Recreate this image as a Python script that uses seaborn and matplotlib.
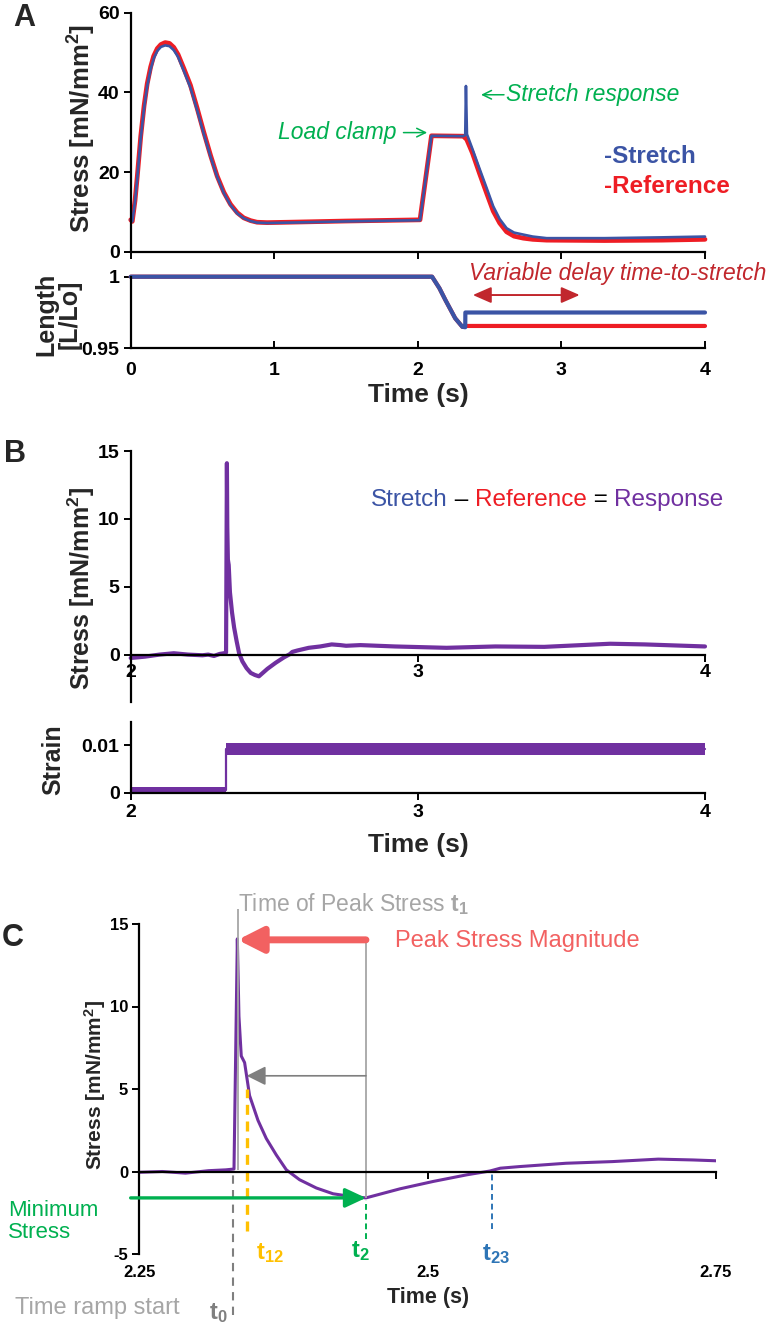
import matplotlib.pyplot as plt
import seaborn as sns
from matplotlib import font_manager

# ---- Panel A: stress traces (time in s, stress in mN/mm2) ----
stretch_a_time = [0.0, 0.011, 0.03, 0.046, 0.07, 0.093, 0.115, 0.139, 0.16, 0.185,
                  0.21, 0.24, 0.27, 0.30, 0.33, 0.37, 0.416, 0.463, 0.509, 0.556,
                  0.602, 0.649, 0.695, 0.742, 0.787, 0.835, 0.88, 0.95, 1.1, 1.5,
                  2.015, 2.095, 2.316, 2.33, 2.335, 2.342, 2.38, 2.432, 2.48, 2.525,
                  2.57, 2.618, 2.67, 2.734, 2.8, 2.897, 3.3, 3.7, 4.0]
stretch_stress = [8.0, 7.6, 12.5, 18.5, 28.5, 36.0, 41.6, 45.8, 48.5, 50.4,
                  51.4, 51.8, 51.6, 50.6, 48.9, 45.4, 41.2, 35.5, 29.6, 23.9,
                  18.8, 14.7, 11.7, 9.6, 8.4, 7.7, 7.3, 7.2, 7.3, 7.6,
                  7.9, 29.1, 29.0, 29.3, 41.6, 29.5, 25.8, 20.6, 15.9, 11.4,
                  8.2, 5.9, 4.8, 4.3, 3.8, 3.4, 3.4, 3.6, 3.8]
ref_a_time = [0.0, 0.011, 0.03, 0.046, 0.07, 0.093, 0.115, 0.139, 0.16, 0.185,
              0.21, 0.24, 0.27, 0.30, 0.33, 0.37, 0.416, 0.463, 0.509, 0.556,
              0.602, 0.649, 0.695, 0.742, 0.787, 0.835, 0.88, 0.95, 1.1, 1.5,
              2.015, 2.095, 2.316, 2.34, 2.38, 2.432, 2.48, 2.525, 2.57, 2.618,
              2.67, 2.734, 2.8, 2.897, 3.3, 3.7, 4.0]
reference_stress = [8.0, 7.6, 12.8, 19.0, 29.0, 36.6, 42.2, 46.4, 49.1, 51.0,
                    52.0, 52.5, 52.3, 51.3, 49.5, 46.0, 41.8, 36.0, 30.0, 24.2,
                    19.0, 14.9, 11.9, 9.8, 8.5, 7.8, 7.4, 7.3, 7.4, 7.7,
                    8.0, 29.1, 29.0, 28.2, 24.8, 19.4, 14.6, 10.2, 7.2, 5.0,
                    3.9, 3.4, 3.1, 2.9, 2.8, 2.9, 3.1]

# ---- Panel A: length traces (L/Lo) ----
stretch_len_time = [0.0, 2.099, 2.15, 2.192, 2.26, 2.31, 2.33, 2.331, 4.0]
stretch_length = [1.0, 1.0, 0.992, 0.9837, 0.971, 0.965, 0.9647, 0.975, 0.975]
ref_len_time = [0.0, 2.099, 2.15, 2.192, 2.26, 2.31, 2.33, 4.0]
ref_length = [1.0, 1.0, 0.992, 0.9837, 0.971, 0.965, 0.9656, 0.9656]

# ---- Panel B/C: response = stretch - reference ----
resp_time = [2.0, 2.05, 2.1, 2.15, 2.2, 2.25, 2.27, 2.29, 2.31, 2.325,
             2.3321, 2.335, 2.3364, 2.3384, 2.3413, 2.3456, 2.3529, 2.3601, 2.3688, 2.3775,
             2.389, 2.4035, 2.418, 2.4324, 2.4465, 2.476, 2.505, 2.534, 2.554, 2.563,
             2.58, 2.62, 2.66, 2.70, 2.73, 2.75, 2.8, 2.92, 3.1, 3.27,
             3.44, 3.67, 3.79, 4.0]
resp_stress = [-0.25, -0.15, 0.0, 0.1, 0.0, -0.05, 0.0, -0.1, 0.05, 0.1,
               0.15, 14.1, 9.4, 7.0, 6.6, 4.6, 3.1, 2.0, 1.0, 0.1,
               -0.5, -1.0, -1.35, -1.5, -1.6, -1.05, -0.6, -0.2, 0.03, 0.2,
               0.3, 0.5, 0.6, 0.75, 0.7, 0.65, 0.7, 0.6, 0.5, 0.6,
               0.57, 0.8, 0.75, 0.6]

# strain step (centre line and noise band)
strain_time = [2.0, 2.332, 2.332, 4.0]
strain_mid = [0.0005, 0.0005, 0.0092, 0.0092]
strain_low = [0.0, 0.0, 0.0080, 0.0080]
strain_high = [0.0012, 0.0012, 0.0104, 0.0104]

# ---- Panel C: characteristic times ----
t0, t1, t12, t2, t23 = 2.3315, 2.3353, 2.3431, 2.4465, 2.5555
peak_stress, half_stress, min_stress = 14.04, 5.8, -1.6

a_xticks = [0, 1, 2, 3, 4]
a_yticks = [0, 20, 40, 60]
len_yticks = [0.95, 1.0]
len_yticklabels = ["0.95", "1"]
b_xticks = [2, 3, 4]
b_yticks = [0, 5, 10, 15]
strain_yticks = [0, 0.01]
strain_yticklabels = ["0", "0.01"]
c_xticks = [2.25, 2.5, 2.75]
c_xticklabels = ["2.25", "2.5", "2.75"]
c_yticks = [-5, 0, 5, 10, 15]

BLUE = "#3b54a5"
RED = "#ee1d24"
PURPLE = "#7030a0"
GREEN = "#00b050"
DARKRED = "#c1272d"
ORANGE = "#ffc000"
TBLUE = "#2e75b6"
GRAY = "#7f7f7f"
LGRAY = "#a6a6a6"
PEAKRED = "#f26161"

sns.set_style("ticks")
plt.rcParams['font.family'] = ['Liberation Sans', 'DejaVu Sans']
plt.rcParams['mathtext.fontset'] = 'custom'
plt.rcParams['mathtext.rm'] = 'Liberation Sans'
plt.rcParams['mathtext.bf'] = 'Liberation Sans:bold'
plt.rcParams['mathtext.it'] = 'Liberation Sans:italic'
plt.rcParams['axes.linewidth'] = 1.6
plt.rcParams['xtick.major.width'] = 1.4
plt.rcParams['ytick.major.width'] = 1.4
plt.rcParams['xtick.color'] = 'black'
plt.rcParams['ytick.color'] = 'black'
plt.rcParams['axes.edgecolor'] = 'black'

installed = {f.name for f in font_manager.fontManager.ttflist}
NARROW = ['Liberation Sans Narrow', 'Liberation Sans'] if 'Liberation Sans Narrow' in installed else ['Liberation Sans']

W, H = 776, 1325


def box(left, top, right, bottom):
    return [left / W, 1 - bottom / H, (right - left) / W, (bottom - top) / H]


def fxy(x, y):
    return x / W, 1 - y / H


def tick_font(size):
    return dict(fontweight='bold', fontsize=size, family=NARROW)


def line(ax, x, y, color, lw, clip=False):
    sns.lineplot(x=x, y=y, ax=ax, color=color, linewidth=lw, sort=False,
                 estimator=None, clip_on=clip)


def thin_arrow(ax, start, end, color):
    ax.annotate("", xy=end, xytext=start,
                arrowprops=dict(arrowstyle='->,head_length=0.45,head_width=0.22',
                                color=color, lw=1.1, mutation_scale=14,
                                shrinkA=0, shrinkB=0))


fig = plt.figure(figsize=(W / 100, H / 100), dpi=100)

# ================= Panel A (stress) =================
axA = fig.add_axes(box(130.7, 12.7, 705, 251.7))
line(axA, ref_a_time, reference_stress, RED, 3.4)
line(axA, stretch_a_time, stretch_stress, BLUE, 1.9)
axA.set(xlim=(0, 4), ylim=(0, 60), xlabel='', ylabel='')
axA.set_xticks(a_xticks, labels=[])
axA.set_yticks(a_yticks, labels=[str(v) for v in a_yticks], **tick_font(14))
axA.tick_params(length=5, pad=3)
sns.despine(ax=axA)

axA.text(1.026, 29.9, "Load clamp", color=GREEN, style='italic', fontsize=16.5,
         va='center', ha='left')
thin_arrow(axA, (1.90, 29.9), (2.065, 29.9), GREEN)
thin_arrow(axA, (2.60, 39.4), (2.44, 39.4), GREEN)
axA.text(2.612, 39.4, "Stretch response", color=GREEN, style='italic', fontsize=16.5,
         va='center', ha='left')
axA.text(3.30, 23.9, "-Stretch", color=BLUE, fontweight='bold', fontsize=17.5,
         va='center', ha='left')
axA.text(3.30, 16.4, "-Reference", color=RED, fontweight='bold', fontsize=17.5,
         va='center', ha='left')

# ================= Panel A (length) =================
axL = fig.add_axes(box(130.7, 276.7, 705, 348.3))
line(axL, ref_len_time, ref_length, RED, 3.0)
line(axL, stretch_len_time, stretch_length, BLUE, 3.0)
axL.set(xlim=(0, 4), ylim=(0.95, 1.0), xlabel='', ylabel='')
axL.set_xticks(a_xticks, labels=[str(v) for v in a_xticks], **tick_font(14))
axL.set_yticks(len_yticks, labels=len_yticklabels, **tick_font(14))
axL.tick_params(axis='y', length=5, pad=3)
axL.tick_params(axis='x', direction='in', length=5, pad=10)
sns.despine(ax=axL)

axL.text(2.358, 1.0023, "Variable delay time-to-stretch", color=DARKRED, style='italic',
         fontsize=16.5, va='center', ha='left', clip_on=False)
axL.annotate("", xy=(3.127, 0.9872), xytext=(2.383, 0.9872),
             arrowprops=dict(arrowstyle='<|-|>,head_length=0.8,head_width=0.35',
                             color=DARKRED, lw=1.4, mutation_scale=14,
                             shrinkA=0, shrinkB=0))

# ================= Panel B (stress response) =================
axB = fig.add_axes(box(130.7, 451, 705, 701.7))
line(axB, resp_time, resp_stress, PURPLE, 3.0)
axB.set(xlim=(2, 4), ylim=(-3.47, 15), xlabel='', ylabel='')
axB.spines['bottom'].set_position(('data', 0))
axB.set_xticks(b_xticks, labels=[str(v) for v in b_xticks], **tick_font(14))
axB.set_yticks(b_yticks, labels=[str(v) for v in b_yticks], **tick_font(14))
axB.tick_params(axis='y', length=5, pad=3)
axB.tick_params(axis='x', length=5, pad=2)
sns.despine(ax=axB)

pieces = [("Stretch", BLUE), (" \u2013 ", "black"), ("Reference", RED),
          (" = ", "black"), ("Response", PURPLE)]
txt = axB.text(2.837, 11.4, pieces[0][0], color=pieces[0][1], fontsize=17.5,
               va='center', ha='left')
for s, c in pieces[1:]:
    txt = axB.annotate(s, xy=(1, 0), xycoords=txt, va='bottom', ha='left',
                       color=c, fontsize=17.5)

# ================= Panel B (strain) =================
axS = fig.add_axes(box(130.7, 721.7, 705, 792.7))
axS.fill_between(strain_time, strain_low, strain_high, color=PURPLE, lw=0, clip_on=False)
line(axS, strain_time, strain_mid, PURPLE, 1.6)
axS.set(xlim=(2, 4), ylim=(0, 0.0149), xlabel='', ylabel='')
axS.set_xticks(b_xticks, labels=[str(v) for v in b_xticks], **tick_font(14))
axS.set_yticks(strain_yticks, labels=strain_yticklabels, **tick_font(14))
axS.tick_params(length=5, pad=3)
sns.despine(ax=axS)

# ================= Panel C (analysis) =================
axC = fig.add_axes(box(139.3, 924, 716, 1254))
line(axC, resp_time, resp_stress, PURPLE, 2.2, clip=True)
axC.set(xlim=(2.25, 2.75), ylim=(-5, 15), xlabel='', ylabel='')
axC.spines['bottom'].set_position(('data', 0))
axC.set_xticks(c_xticks, labels=c_xticklabels, **tick_font(12))
axC.set_yticks(c_yticks, labels=[str(v) for v in c_yticks], **tick_font(12))
axC.tick_params(axis='x', length=5, pad=62)
axC.tick_params(axis='y', length=5, pad=3)
sns.despine(ax=axC)

# vertical guide lines
axC.vlines(t1, 0.1, 15.9, color=LGRAY, lw=1.3, clip_on=False)
axC.vlines(t2, min_stress, peak_stress, color=LGRAY, lw=1.3)
axC.vlines(t0, -8.7, -0.15, color=GRAY, lw=1.5, linestyles=(0, (4, 3)), clip_on=False)
axC.vlines(t12, -3.6, 5.0, color=ORANGE, lw=2.4, linestyles=(0, (3, 2)))
axC.vlines(t2, -4.1, -1.75, color=GREEN, lw=1.4, linestyles=(0, (3, 2)))
axC.vlines(t23, -3.5, -0.15, color=TBLUE, lw=1.4, linestyles=(0, (3, 2)))

# arrows
axC.annotate("", xy=(t1, peak_stress), xytext=(t2, peak_stress),
             arrowprops=dict(arrowstyle='-|>,head_length=0.75,head_width=0.38',
                             color=PEAKRED, lw=5, mutation_scale=20,
                             shrinkA=0, shrinkB=0))
axC.annotate("", xy=(t12, half_stress), xytext=(t2, half_stress),
             arrowprops=dict(arrowstyle='-|>,head_length=0.9,head_width=0.45',
                             color=GRAY, lw=1.2, mutation_scale=13,
                             shrinkA=0, shrinkB=0))
axC.annotate("", xy=(t2, min_stress), xytext=(2.2425, min_stress),
             annotation_clip=False,
             arrowprops=dict(arrowstyle='-|>,head_length=0.9,head_width=0.42',
                             color=GREEN, lw=2.4, mutation_scale=14,
                             shrinkA=0, shrinkB=0))

# annotation texts
axC.text(t1 + 0.0005, 16.2, r"Time of Peak Stress $\mathbf{t_1}$", color=LGRAY,
         fontsize=16.5, va='center', ha='left', family=NARROW)
axC.text(2.4716, 14.0, "Peak Stress Magnitude", color=PEAKRED, fontsize=17,
         va='center', ha='left', family=NARROW)
axC.text(2.1363, -3.05, "Minimum\nStress", color=GREEN, fontsize=16, va='center',
         ha='left', linespacing=1.05, family=NARROW)
axC.text(2.3637, -4.93, r"$\mathbf{t_{12}}$", color=ORANGE, fontsize=17, va='center', ha='center')
axC.text(2.4418, -4.84, r"$\mathbf{t_{2}}$", color=GREEN, fontsize=17, va='center', ha='center')
axC.text(2.559, -5.0, r"$\mathbf{t_{23}}$", color=TBLUE, fontsize=17, va='center', ha='center')
axC.text(2.3187, -8.56, r"$\mathbf{t_{0}}$", color=GRAY, fontsize=17, va='center', ha='center')
axC.text(2.2135, -8.28, "Time ramp start", color=LGRAY, fontsize=17, va='center',
         ha='center', family=NARROW)

# ================= axis titles and panel letters =================
fig.text(*fxy(81.7, 128), r"Stress [mN/mm$^{\mathbf{2}}$]", rotation=90, fontsize=18.5,
         fontweight='bold', ha='center', va='center')
fig.text(*fxy(58, 314), "Length\n[L/Lo]", rotation=90, fontsize=18, fontweight='bold',
         ha='center', va='center', linespacing=1.0, multialignment='center')
fig.text(*fxy(418, 395), "Time (s)", fontsize=19, fontweight='bold', ha='center',
         va='center', family=NARROW)
fig.text(*fxy(81.7, 589), r"Stress [mN/mm$^{\mathbf{2}}$]", rotation=90, fontsize=18,
         fontweight='bold', ha='center', va='center')
fig.text(*fxy(53, 760), "Strain", rotation=90, fontsize=18, fontweight='bold',
         ha='center', va='center')
fig.text(*fxy(418, 845), "Time (s)", fontsize=19, fontweight='bold', ha='center',
         va='center', family=NARROW)
fig.text(*fxy(95, 1085), r"Stress [mN/mm$^{\mathbf{2}}$]", rotation=90, fontsize=15,
         fontweight='bold', ha='center', va='center')
fig.text(*fxy(427.7, 1298), "Time (s)", fontsize=15.5, fontweight='bold', ha='center',
         va='center', family=NARROW)

fig.text(*fxy(24, 18.5), "A", fontsize=22, fontweight='bold', ha='center', va='center')
fig.text(*fxy(15, 454), "B", fontsize=22, fontweight='bold', ha='center', va='center')
fig.text(*fxy(13, 938), "C", fontsize=22, fontweight='bold', ha='center', va='center')

fig.savefig("out.png", dpi=100)
